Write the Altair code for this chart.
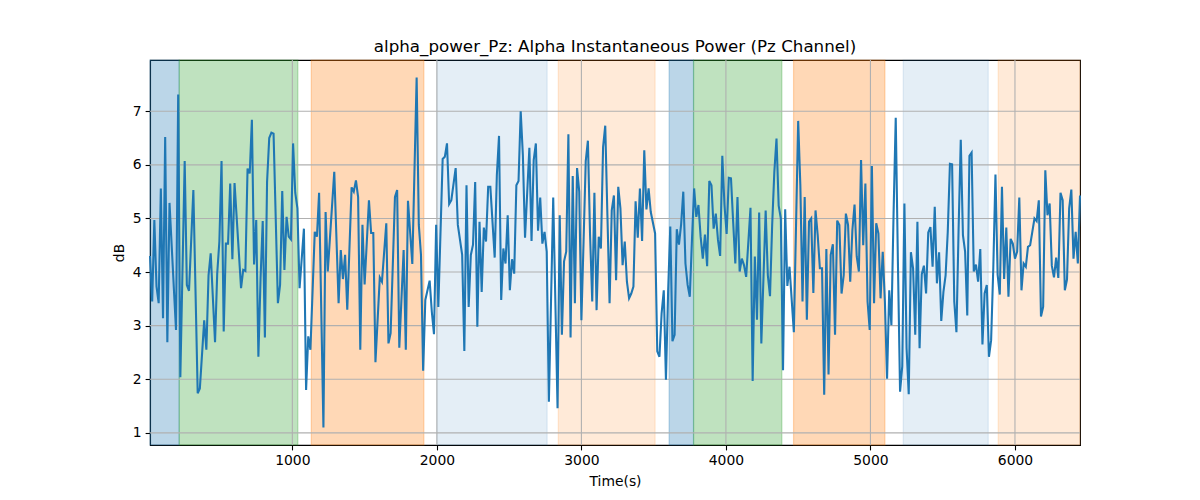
import altair as alt
import pandas as pd

# sample number (15 s step) and alpha power (dB)
epoch = [1, 2, 3, 4, 5, 6, 7, 8, 9, 10, 12, 13, 14, 15, 17, 18, 19, 21, 23, 24,
         26, 27, 28, 29, 31, 32, 33, 34, 35, 36, 37, 38, 39, 40, 43, 44, 45, 46, 47, 48,
         49, 50, 51, 52, 53, 54, 55, 56, 57, 58, 60, 61, 62, 63, 64, 65, 66, 67, 68, 69,
         70, 72, 73, 74, 75, 77, 78, 79, 81, 82, 83, 86, 88, 89, 90, 91, 92, 94, 95, 96,
         97, 98, 99, 100, 102, 103, 104, 105, 107, 108, 110, 111, 112, 114, 115, 116, 118, 119, 120, 122,
         124, 125, 126, 127, 128, 130, 131, 132, 133, 134, 136, 137, 138, 139, 140, 142, 143, 145, 146, 147,
         148, 149, 150, 151, 152, 153, 154, 155, 156, 157, 158, 160, 161, 162, 163, 164, 165, 166, 167, 168,
         169, 170, 171, 172, 173, 174, 176, 177, 178, 179, 180, 181, 182, 183, 184, 185, 187, 189, 190, 191,
         192, 193, 194, 195, 196, 197, 198, 199, 200, 201, 202, 203, 204, 205, 206, 207, 208, 209, 210, 211,
         212, 213, 214, 215, 216, 217, 218, 219, 220, 221, 222, 223, 224, 225, 226, 227, 228, 229, 230, 231,
         232, 234, 235, 236, 237, 238, 239, 240, 241, 242, 243, 244, 245, 246, 247, 248, 249, 250, 251, 252,
         253, 254, 255, 256, 257, 258, 259, 260, 261, 262, 263, 264, 265, 266, 267, 268, 269, 270, 271, 272,
         273, 274, 275, 276, 278, 279, 280, 281, 282, 283, 285, 286, 287, 288, 289, 290, 291, 292, 293, 294,
         295, 296, 298, 300, 301, 302, 303, 304, 305, 306, 307, 308, 309, 310, 311, 312, 313, 314, 315, 316,
         317, 318, 319, 320, 321, 322, 323, 324, 325, 326, 327, 328, 329, 330, 331, 332, 333, 334, 335, 336,
         337, 338, 339, 340, 341, 342, 343, 344, 345, 346, 347, 348, 349, 350, 351, 352, 353, 354, 355, 356,
         357, 358, 359, 360, 361, 362, 363, 364, 365, 366, 367, 368, 369, 370, 371, 372, 373, 374, 375, 376,
         377, 378, 379, 380, 381, 382, 383, 384, 385, 386, 387, 388, 389, 390, 391, 392, 393, 394, 395, 396,
         397, 398, 399, 400, 401, 402, 403, 404, 405, 406, 407, 408, 409, 410, 411, 412, 413, 414, 415, 416,
         417, 418, 419, 420, 421, 422, 423, 424, 425, 426, 427, 428, 429, 430]

alpha_db = [4.30, 3.45, 4.97, 3.73, 3.42, 5.56, 3.14, 6.52, 2.69, 5.29, 3.70, 2.92, 7.31, 2.04, 6.07, 3.76, 3.65, 5.53, 1.74, 1.83,
            3.10, 2.55, 3.94, 4.35, 2.69, 3.97, 4.57, 6.07, 2.89, 4.53, 4.53, 5.65, 4.24, 5.66, 3.70, 4.04, 4.02, 5.93, 5.84, 6.84,
            4.14, 4.97, 2.42, 3.88, 4.95, 2.78, 5.68, 6.50, 6.60, 6.58, 3.42, 3.76, 5.51, 4.04, 5.03, 4.66, 4.61, 6.40, 5.48, 5.19,
            3.70, 4.81, 1.80, 2.80, 2.55, 4.75, 4.66, 5.48, 1.10, 5.12, 4.01, 5.87, 3.42, 4.41, 3.87, 4.32, 3.30, 5.58, 5.50, 5.71,
            5.40, 2.55, 4.88, 3.77, 5.34, 4.73, 4.73, 2.32, 3.90, 3.82, 4.91, 2.67, 2.86, 5.40, 5.53, 2.59, 4.41, 2.55, 5.33, 4.15,
            7.63, 4.88, 4.32, 2.16, 3.48, 3.84, 3.26, 2.84, 4.88, 3.35, 6.11, 6.15, 6.40, 5.27, 5.34, 5.94, 4.88, 4.32, 2.53, 5.62,
            3.35, 4.32, 4.51, 5.68, 2.98, 4.94, 3.63, 4.83, 4.57, 5.59, 5.59, 4.27, 5.81, 6.54, 3.48, 4.44, 4.16, 5.06, 3.66, 4.24,
            3.97, 5.62, 5.70, 7.00, 6.18, 4.64, 6.32, 4.58, 6.09, 6.40, 4.77, 5.39, 4.53, 4.75, 4.38, 1.58, 5.39, 1.46, 5.06, 2.83,
            4.20, 4.38, 6.57, 2.78, 5.79, 3.42, 5.94, 5.50, 3.10, 4.57, 6.07, 6.45, 4.69, 3.45, 5.48, 3.29, 4.66, 4.44, 6.33, 6.73,
            5.06, 3.42, 5.15, 5.43, 3.85, 5.59, 5.19, 4.13, 4.57, 3.82, 3.51, 3.60, 3.73, 5.32, 4.64, 5.56, 4.58, 6.27, 5.17, 5.56,
            5.12, 4.72, 2.52, 2.42, 3.23, 3.66, 1.99, 3.63, 4.85, 2.71, 2.83, 4.80, 4.51, 4.89, 5.50, 4.16, 3.76, 3.54, 4.60, 5.56,
            5.03, 5.25, 4.66, 4.25, 4.70, 4.11, 5.70, 5.62, 4.81, 5.09, 4.60, 4.30, 6.17, 5.25, 4.71, 5.76, 5.75, 4.94, 4.16, 5.40,
            4.01, 4.25, 4.13, 3.91, 5.20, 1.97, 4.29, 3.11, 5.11, 2.67, 5.15, 3.94, 3.55, 4.88, 5.87, 6.49, 5.24, 5.00, 2.17, 5.17,
            3.74, 4.10, 2.88, 6.82, 5.62, 3.45, 5.40, 3.11, 4.94, 5.00, 3.61, 5.15, 4.69, 4.07, 4.07, 1.71, 4.43, 2.09, 4.32, 4.52,
            2.83, 4.96, 4.88, 3.60, 3.94, 5.09, 4.88, 3.82, 4.78, 5.26, 4.29, 4.01, 6.09, 4.50, 5.65, 3.45, 2.92, 5.98, 3.42, 4.91,
            4.72, 3.51, 4.38, 3.45, 2.01, 3.66, 3.01, 5.09, 6.88, 4.19, 1.77, 2.24, 5.28, 2.58, 1.72, 4.37, 4.07, 2.83, 4.94, 2.58,
            3.96, 4.12, 3.60, 4.74, 4.84, 4.10, 5.22, 3.79, 4.37, 3.09, 3.63, 3.94, 4.75, 6.02, 6.01, 3.45, 2.88, 4.81, 6.47, 4.69,
            4.38, 3.19, 6.17, 6.23, 4.01, 4.14, 3.82, 4.43, 2.65, 3.60, 3.76, 2.42, 2.73, 4.07, 5.82, 3.95, 3.58, 5.59, 3.87, 4.83,
            3.54, 4.62, 4.53, 4.25, 4.38, 5.39, 3.66, 4.16, 4.10, 4.47, 4.50, 4.75, 5.00, 4.95, 5.34, 3.17, 3.35, 5.90, 5.06, 5.28,
            4.12, 3.90, 4.27, 3.89, 5.48, 5.34, 3.66, 3.86, 5.19, 5.54, 4.25, 4.75, 4.16, 5.43]

time_s = [15 * e for e in epoch]

# shaded segments
span_start = [15, 217, 1131, 2000, 2840, 3607, 3776, 4468, 5227, 5884]
span_end = [217, 1038, 1910, 2763, 3510, 3776, 4387, 5100, 5815, 6450]
span_color = ["#1f77b4", "#2ca02c", "#ff7f0e", "#1f77b4", "#ff7f0e",
              "#1f77b4", "#2ca02c", "#ff7f0e", "#1f77b4", "#ff7f0e"]
span_alpha = [0.3, 0.3, 0.3, 0.12, 0.16, 0.3, 0.3, 0.3, 0.12, 0.16]

x_ticks = [1000, 2000, 3000, 4000, 5000, 6000]
y_ticks = [1, 2, 3, 4, 5, 6, 7]

series = pd.DataFrame({"t": time_s, "v": alpha_db})
spans = pd.DataFrame({"start": span_start, "end": span_end,
                      "color": span_color, "alpha": span_alpha})
xgrid = pd.DataFrame({"t": x_ticks})
ygrid = pd.DataFrame({"v": y_ticks})

xscale = alt.Scale(domain=[15, 6450], nice=False, zero=False)
yscale = alt.Scale(domain=[0.774, 7.956], nice=False, zero=False)
x_axis = alt.Axis(values=x_ticks, title="Time(s)", format="d", grid=False)
y_axis = alt.Axis(values=y_ticks, title="dB", format="d", grid=False)

span_layer = alt.Chart(spans).mark_rect(strokeWidth=1.2).encode(
    x=alt.X("start:Q", scale=xscale, axis=x_axis),
    x2="end:Q",
    fill=alt.Fill("color:N", scale=None),
    stroke=alt.Stroke("color:N", scale=None),
    fillOpacity=alt.FillOpacity("alpha:Q", scale=None),
    strokeOpacity=alt.StrokeOpacity("alpha:Q", scale=None),
)

vgrid_layer = alt.Chart(xgrid).mark_rule(color="#b0b0b0", strokeWidth=1.1).encode(
    x=alt.X("t:Q", scale=xscale, axis=x_axis)
)
hgrid_layer = alt.Chart(ygrid).mark_rule(color="#b0b0b0", strokeWidth=1.1).encode(
    y=alt.Y("v:Q", scale=yscale, axis=y_axis)
)

line_layer = alt.Chart(series).mark_line(color="#1f77b4", strokeWidth=2.08).encode(
    x=alt.X("t:Q", scale=xscale, axis=x_axis),
    y=alt.Y("v:Q", scale=yscale, axis=y_axis),
)

chart = alt.layer(span_layer, vgrid_layer, hgrid_layer, line_layer).properties(
    width=930,
    height=385,
    autosize="none",
    padding={"left": 142, "top": 52, "right": 112, "bottom": 47},
    title=alt.TitleParams(
        "alpha_power_Pz: Alpha Instantaneous Power (Pz Channel)",
        fontSize=16.7, fontWeight="normal", font="DejaVu Sans", color="black",
        anchor="middle", baseline="bottom", offset=-13,
    ),
).configure_view(
    stroke="black", strokeWidth=1.1
).configure_axis(
    labelFont="DejaVu Sans", labelFontSize=13.9, labelColor="black",
    titleFont="DejaVu Sans", titleFontSize=13.9, titleFontWeight="normal", titleColor="black",
    tickColor="black", tickSize=4.9, tickWidth=1.1,
    domainColor="black", domainWidth=1.1, labelPadding=4, zindex=1,
).configure_axisX(titlePadding=7).configure_axisY(titlePadding=6)

chart.save("out.html", embed_options={"renderer": "svg", "actions": False})
